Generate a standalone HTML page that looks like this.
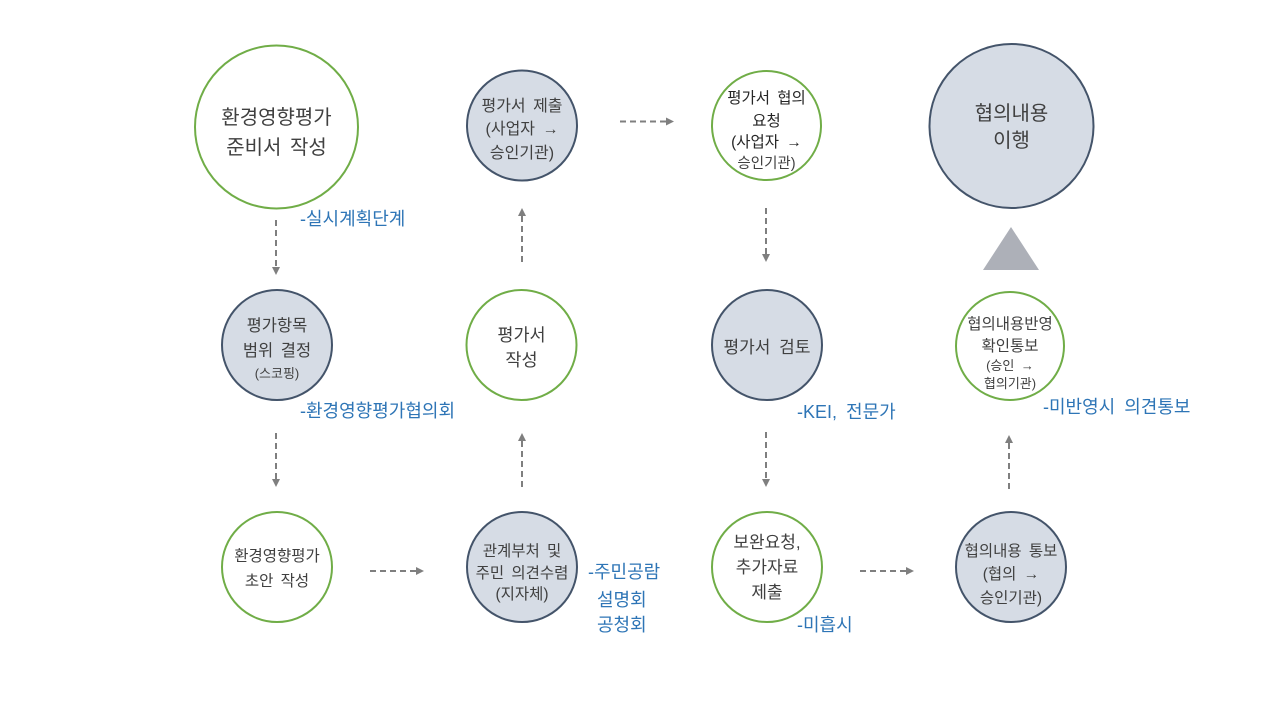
<!DOCTYPE html>
<html>
<head>
<meta charset="utf-8">
<style>
  html, body { margin:0; padding:0; background:#ffffff; }
  svg { display:block; }
  text { font-family: "Liberation Sans", "Noto Sans CJK KR", sans-serif; }
  .t { fill:#404040; text-anchor:middle; }
  .lb { fill:#2e75b6; word-spacing:4px; }
  .g { fill:#ffffff; stroke:#70ad47; stroke-width:2; }
  .d { fill:#d6dce5; stroke:#44546a; stroke-width:2; }
  .a { stroke:#7f7f7f; stroke-width:2; stroke-dasharray:6 4; fill:none; }
  .h { fill:#7f7f7f; }
</style>
</head>
<body>
<svg width="1280" height="720" viewBox="0 0 1280 720" xmlns="http://www.w3.org/2000/svg">
  <!-- Row 1 -->
  <circle class="g" cx="276.5" cy="127" r="81.5"/>
  <text class="t" x="276.5" y="124" font-size="20">환경영향평가</text>
  <text class="t" x="276.5" y="154" font-size="20" style="word-spacing:3px">준비서 작성</text>

  <circle class="d" cx="522" cy="125.5" r="55"/>
  <text class="t" x="522" y="111" font-size="16" style="word-spacing:3px">평가서 제출</text>
  <text class="t" x="522" y="134" font-size="16" style="word-spacing:3px">(사업자 →</text>
  <text class="t" x="522" y="158" font-size="16">승인기관)</text>

  <circle class="g" cx="766.5" cy="125.5" r="54.5"/>
  <text class="t" x="766.5" y="103" font-size="15.5" style="fill:#262626;word-spacing:3px">평가서 협의</text>
  <text class="t" x="766.5" y="126" font-size="15.5" style="fill:#262626">요청</text>
  <text class="t" x="766.5" y="147" font-size="15.5" style="fill:#262626;word-spacing:3px">(사업자 →</text>
  <text class="t" x="766.5" y="168" font-size="14.5" style="fill:#404040">승인기관)</text>

  <circle class="d" cx="1011.5" cy="126" r="82"/>
  <text class="t" x="1011.5" y="120" font-size="20">협의내용</text>
  <text class="t" x="1011.5" y="147" font-size="20">이행</text>

  <polygon points="1011,227 1039,270 983,270" fill="#adb0b8"/>

  <!-- Row 2 -->
  <circle class="d" cx="277" cy="345" r="55"/>
  <text class="t" x="277" y="331" font-size="16.5">평가항목</text>
  <text class="t" x="277" y="356" font-size="16.5" style="word-spacing:3px">범위 결정</text>
  <text class="t" x="277" y="378" font-size="13">(스코핑)</text>

  <circle class="g" cx="521.5" cy="345" r="55"/>
  <text class="t" x="521.5" y="341" font-size="17.5">평가서</text>
  <text class="t" x="521.5" y="366" font-size="17.5">작성</text>

  <circle class="d" cx="767" cy="345" r="55"/>
  <text class="t" x="767" y="353" font-size="17" style="word-spacing:4px">평가서 검토</text>

  <circle class="g" cx="1010" cy="346" r="54"/>
  <text class="t" x="1010" y="329" font-size="15.5">협의내용반영</text>
  <text class="t" x="1010" y="351" font-size="15.5">확인통보</text>
  <text class="t" x="1010" y="370" font-size="13" style="word-spacing:3px">(승인 →</text>
  <text class="t" x="1010" y="388" font-size="13">협의기관)</text>

  <!-- Row 3 -->
  <circle class="g" cx="277" cy="567" r="55"/>
  <text class="t" x="277" y="561" font-size="15.5">환경영향평가</text>
  <text class="t" x="277" y="586" font-size="15.5" style="word-spacing:3px">초안 작성</text>

  <circle class="d" cx="522" cy="567" r="55"/>
  <text class="t" x="522" y="556" font-size="15.5" style="word-spacing:3px">관계부처 및</text>
  <text class="t" x="522" y="578" font-size="15.5" style="word-spacing:3px">주민 의견수렴</text>
  <text class="t" x="522" y="599" font-size="15.5">(지자체)</text>

  <circle class="g" cx="767" cy="567" r="55"/>
  <text class="t" x="767" y="548" font-size="17">보완요청,</text>
  <text class="t" x="767" y="573" font-size="17">추가자료</text>
  <text class="t" x="767" y="598" font-size="17">제출</text>

  <circle class="d" cx="1011" cy="567" r="55"/>
  <text class="t" x="1011" y="556" font-size="15.5" style="word-spacing:3px">협의내용 통보</text>
  <text class="t" x="1011" y="579" font-size="15.5" style="word-spacing:3px">(협의 →</text>
  <text class="t" x="1011" y="603" font-size="15.5">승인기관)</text>

  <!-- Labels -->
  <text class="lb" x="300" y="225" font-size="18">-실시계획단계</text>
  <text class="lb" x="300" y="417" font-size="18">-환경영향평가협의회</text>
  <text class="lb" x="797" y="418" font-size="18">-KEI, 전문가</text>
  <text class="lb" x="1043" y="413" font-size="18">-미반영시 의견통보</text>
  <text class="lb" x="588" y="578" font-size="18">-주민공람</text>
  <text class="lb" x="597" y="606" font-size="18">설명회</text>
  <text class="lb" x="597" y="631" font-size="18">공청회</text>
  <text class="lb" x="797" y="631" font-size="18">-미흡시</text>

  <!-- Arrows: down col1 -->
  <line class="a" x1="276" y1="220" x2="276" y2="268"/>
  <polygon class="h" points="272,267 280,267 276,275"/>
  <line class="a" x1="276" y1="433" x2="276" y2="480"/>
  <polygon class="h" points="272,479 280,479 276,487"/>

  <!-- right row3 left -->
  <line class="a" x1="370" y1="571" x2="417" y2="571"/>
  <polygon class="h" points="416,567 416,575 424,571"/>

  <!-- up col2 -->
  <line class="a" x1="522" y1="487" x2="522" y2="440"/>
  <polygon class="h" points="518,441 526,441 522,433"/>
  <line class="a" x1="522" y1="262" x2="522" y2="216"/>
  <polygon class="h" points="518,216 526,216 522,208"/>

  <!-- right row1 -->
  <line class="a" x1="620" y1="121.5" x2="666" y2="121.5"/>
  <polygon class="h" points="666,117.5 666,125.5 674,121.5"/>

  <!-- down col3 -->
  <line class="a" x1="766" y1="208" x2="766" y2="255"/>
  <polygon class="h" points="762,254 770,254 766,262"/>
  <line class="a" x1="766" y1="432" x2="766" y2="480"/>
  <polygon class="h" points="762,479 770,479 766,487"/>

  <!-- right row3 right -->
  <line class="a" x1="860" y1="571" x2="907" y2="571"/>
  <polygon class="h" points="906,567 906,575 914,571"/>

  <!-- up col4 -->
  <line class="a" x1="1009" y1="489" x2="1009" y2="443"/>
  <polygon class="h" points="1005,443 1013,443 1009,435"/>
</svg>
</body>
</html>
